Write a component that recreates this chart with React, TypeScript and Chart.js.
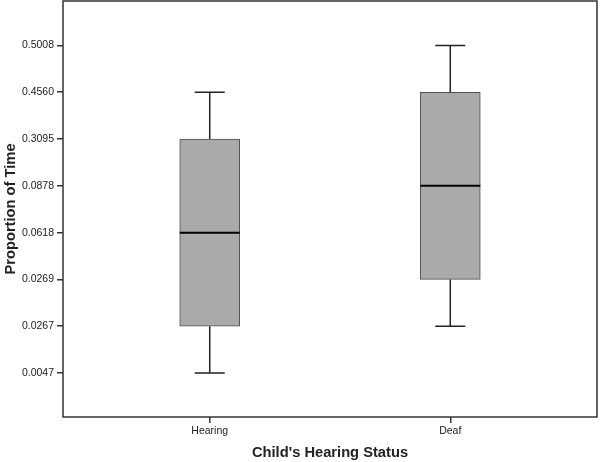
import React, { useEffect, useRef } from "react";
import { Chart, registerables } from "chart.js";

Chart.register(...registerables);

const categories = ["Hearing", "Deaf"];
const tickLabels = ["0.0047", "0.0267", "0.0269", "0.0618", "0.0878", "0.3095", "0.4560", "0.5008"];
const whiskerLow = ["0.0047", "0.0267"];
const q1 = ["0.0267", "0.0269"];
const median = ["0.0618", "0.0878"];
const q3 = ["0.3095", "0.4560"];
const whiskerHigh = ["0.4560", "0.5008"];

const pos = (v: string) => tickLabels.indexOf(v);

const boxPlugin = {
  id: "boxExtras",
  afterDatasetsDraw(chart: any) {
    const meta = chart.getDatasetMeta(0);
    const ys = chart.scales.y;
    const ctx = chart.ctx;
    ctx.save();
    meta.data.forEach((bar: any, i: number) => {
      const x = bar.x;
      const w = bar.width;
      const yLo = ys.getPixelForValue(pos(whiskerLow[i]));
      const yQ1 = ys.getPixelForValue(pos(q1[i]));
      const yMed = ys.getPixelForValue(pos(median[i]));
      const yQ3 = ys.getPixelForValue(pos(q3[i]));
      const yHi = ys.getPixelForValue(pos(whiskerHigh[i]));
      ctx.strokeStyle = "#222";
      ctx.lineWidth = 1.5;
      ctx.beginPath();
      ctx.moveTo(x, yQ1);
      ctx.lineTo(x, yLo);
      ctx.moveTo(x - w / 4, yLo);
      ctx.lineTo(x + w / 4, yLo);
      ctx.moveTo(x, yQ3);
      ctx.lineTo(x, yHi);
      ctx.moveTo(x - w / 4, yHi);
      ctx.lineTo(x + w / 4, yHi);
      ctx.stroke();
      ctx.strokeStyle = "#000";
      ctx.lineWidth = 2;
      ctx.beginPath();
      ctx.moveTo(x - w / 2, yMed);
      ctx.lineTo(x + w / 2, yMed);
      ctx.stroke();
    });
    const a = chart.chartArea;
    ctx.strokeStyle = "#333";
    ctx.lineWidth = 1.5;
    ctx.strokeRect(a.left, a.top, a.right - a.left, a.bottom - a.top);
    ctx.restore();
  },
};

export default function App() {
  const ref = useRef<HTMLCanvasElement>(null);
  useEffect(() => {
    if (!ref.current) return;
    const chart = new Chart(ref.current, {
      type: "bar",
      data: {
        datasets: [
          {
            data: categories.map((c, i) => ({ x: i, y: [pos(q1[i]), pos(q3[i])] })) as any,
            backgroundColor: "#aaaaaa",
            borderColor: "#505050",
            borderWidth: 1,
            borderSkipped: false,
            barThickness: 60,
          },
        ],
      },
      options: {
        animation: false,
        responsive: false,
        maintainAspectRatio: false,
        layout: { padding: { top: 1, right: 3, left: 0, bottom: 0 } },
        plugins: { legend: { display: false }, tooltip: { enabled: false } },
        scales: {
          x: {
            type: "linear",
            offset: false,
            min: -0.61,
            max: 1.61,
            afterBuildTicks: (s: any) => {
              s.ticks = categories.map((_, i) => ({ value: i }));
            },
            afterFit: (s: any) => {
              s.height = 45;
              s.paddingLeft = 0;
              s.paddingRight = 0;
            },
            ticks: {
              callback: (v: any) => categories[v] ?? "",
              color: "#222",
              font: { family: "Liberation Sans", size: 10.5 },
              padding: 2,
              maxRotation: 0,
            },
            grid: { offset: false, drawOnChartArea: false, drawTicks: true, tickLength: 6, color: "#333", lineWidth: 1.5 },
            border: { display: false },
            title: {
              display: true,
              text: "Child's Hearing Status",
              color: "#222",
              font: { family: "Liberation Sans", size: 14.7, weight: "bold" },
              padding: { top: 5, bottom: 0 },
            },
          },
          y: {
            type: "linear",
            min: -0.94,
            max: 7.95,
            afterBuildTicks: (s: any) => {
              s.ticks = tickLabels.map((_, i) => ({ value: i }));
            },
            afterFit: (s: any) => {
              s.width = 63;
              s.paddingTop = 0;
              s.paddingBottom = 0;
            },
            ticks: {
              callback: (v: any) => tickLabels[v] ?? "",
              color: "#222",
              font: { family: "Liberation Sans", size: 10.5 },
              padding: 3,
            },
            grid: { drawOnChartArea: false, drawTicks: true, tickLength: 6, color: "#333", lineWidth: 1.5 },
            border: { display: false },
            title: {
              display: true,
              text: "Proportion of Time",
              color: "#222",
              font: { family: "Liberation Sans", size: 14.7, weight: "bold" },
              padding: { top: 2, bottom: 0 },
            },
          },
        },
      },
      plugins: [boxPlugin],
    });
    return () => chart.destroy();
  }, []);
  return (
    <div style={{ position: "absolute", left: 0, top: 0, width: 600, height: 462, background: "#fff" }}>
      <canvas ref={ref} width={600} height={462} style={{ width: 600, height: 462 }} />
    </div>
  );
}
